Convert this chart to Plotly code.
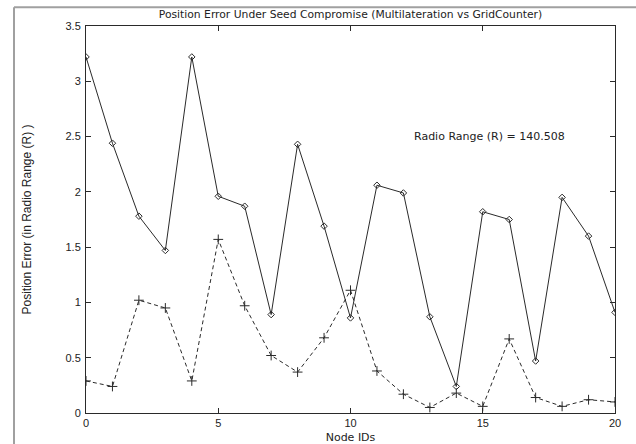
import plotly.graph_objects as go

node_ids = list(range(21))
multilateration = [3.22, 2.44, 1.78, 1.47, 3.22, 1.96, 1.87, 0.89, 2.43, 1.69, 0.86,
                   2.06, 1.99, 0.87, 0.24, 1.82, 1.75, 0.47, 1.95, 1.60, 0.91]
gridcounter = [0.29, 0.24, 1.02, 0.95, 0.29, 1.57, 0.97, 0.52, 0.37, 0.68, 1.11,
               0.38, 0.17, 0.05, 0.18, 0.06, 0.67, 0.14, 0.06, 0.12, 0.10]
x_ticks = [0, 5, 10, 15, 20]
y_ticks = [0, 0.5, 1, 1.5, 2, 2.5, 3, 3.5]

title_text = "Position Error Under Seed Compromise (Multilateration vs GridCounter)"
annotation_text = "Radio Range (R) = 140.508"
x_title = "Node IDs"
y_title = "Position Error (in Radio Range (R) )"

LINE = "#2a2a2a"
FONT = "Liberation Sans"
WIDE = "DejaVu Sans"

fig = go.Figure()
fig.add_trace(go.Scatter(
    x=node_ids, y=multilateration, mode="lines+markers",
    line=dict(color=LINE, width=1),
    marker=dict(symbol="diamond-open", size=5, color=LINE, line=dict(width=1, color=LINE)),
    name="Multilateration", showlegend=False,
))
fig.add_trace(go.Scatter(
    x=node_ids, y=gridcounter, mode="lines+markers",
    line=dict(color=LINE, width=1, dash="4px,3px"),
    marker=dict(symbol="cross-thin-open", size=7, color=LINE, line=dict(width=1, color=LINE)),
    name="GridCounter", showlegend=False,
))

fig.add_annotation(x=15.27, y=2.5, xref="x", yref="y", text=annotation_text,
                   showarrow=False, font=dict(family=WIDE, size=11, color="#222"))

# outer window-like frame (gray), left and top edges
fig.add_shape(type="line", xref="paper", yref="paper", x0=-0.1361, x1=-0.1361, y0=-0.09, y1=1.0483,
              line=dict(color="#a0a0a0", width=2), layer="above")
fig.add_shape(type="line", xref="paper", yref="paper", x0=-0.1361, x1=1.04, y0=1.0483, y1=1.0483,
              line=dict(color="#a0a0a0", width=2), layer="above")

fig.update_layout(
    width=636, height=444,
    margin=dict(l=86, r=21, t=26, b=31),
    paper_bgcolor="white", plot_bgcolor="white",
    font=dict(family=FONT, size=11, color="#222"),
    title=dict(text=title_text, x=0.5, xref="paper", y=1 - 14 / 444, yref="container",
               xanchor="center", yanchor="middle", font=dict(family=WIDE, size=10.75, color="#222")),
    xaxis=dict(range=[0, 20], tickvals=x_ticks, ticks="inside", ticklen=5, tickcolor=LINE,
               showline=True, linecolor=LINE, linewidth=1, mirror="ticks", showgrid=False,
               zeroline=False, automargin=False,
               title=dict(text=x_title, standoff=9, font=dict(family=WIDE, size=11)),
               tickfont=dict(size=11)),
    yaxis=dict(range=[0, 3.5], tickvals=y_ticks, ticks="inside", ticklen=5, tickcolor=LINE,
               showline=True, linecolor=LINE, linewidth=1, mirror="ticks", showgrid=False,
               zeroline=False, automargin=False,
               title=dict(text=y_title, standoff=31, font=dict(size=12)),
               tickfont=dict(size=11), ticklabelstandoff=2),
)

fig.write_html("out.html", config={"displayModeBar": False},
               post_script="document.body.style.margin='0px';")
